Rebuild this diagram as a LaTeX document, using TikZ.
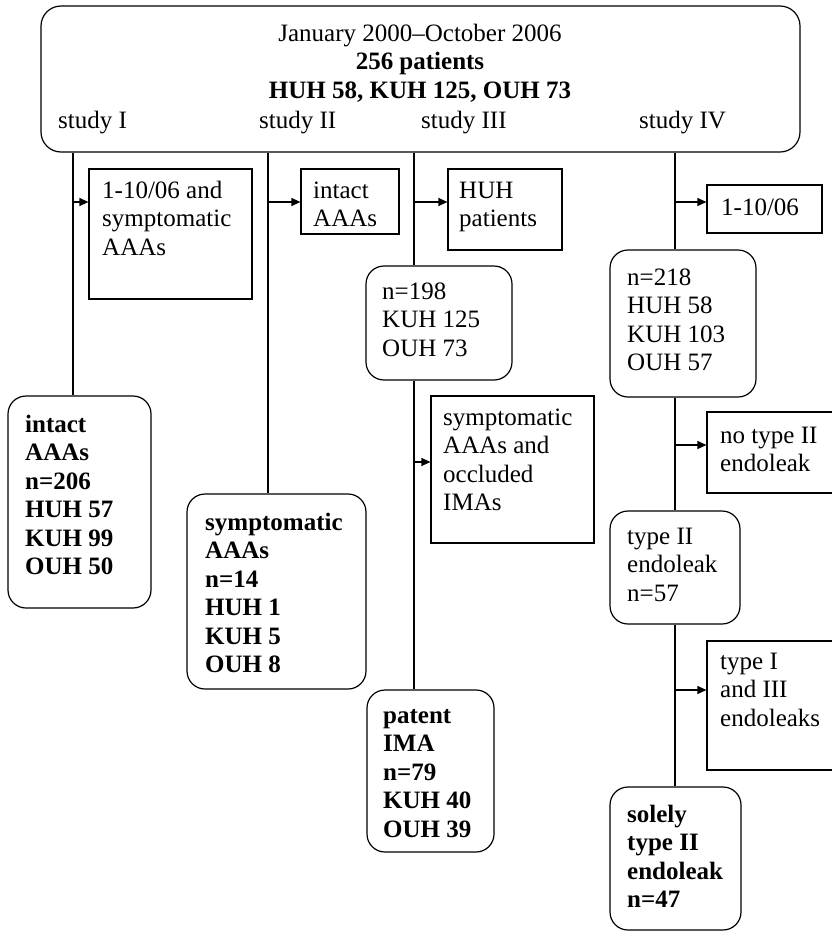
\documentclass[tikz,border=0pt]{standalone}
\usepackage{fontspec}
\setmainfont{Liberation Serif}
\usetikzlibrary{arrows.meta}
\tikzset{
  x=1pt, y=-1pt,
  lw/.style={line width=1.2pt},
  sqbox/.style={draw, lw, rectangle, inner sep=0pt},
  rdbox/.style={draw, lw, rectangle, rounded corners=18pt, inner sep=0pt},
  txt/.style={inner sep=0pt, align=left, anchor=north west, font=\fontsize{25}{28.5}\selectfont},
  link/.style={lw},
  arr/.style={lw, -{Triangle[length=9pt,width=8pt]}},
}
\newcommand\mkbox[6]{\node[#2, minimum width={(#5-#3)*1pt}, minimum height={(#6-#4)*1pt}] (#1) at ({(#3+#5)/2},{(#4+#6)/2}) {};}
\newcommand\mktext[4]{\node[txt] (#1) at (#2,{#3-19.95}) {\strut #4};}
\begin{document}
\begin{tikzpicture}
\useasboundingbox (0,0) rectangle (832,932);
\clip (0,0) rectangle (832,932);
% top box
\mkbox{top}{rdbox, rounded corners=20pt}{41}{6}{800}{152}
\node[txt, anchor=north, align=center] (toptxt) at (420,{41-19.95}) {\strut January 2000--October 2006\\ \textbf{256 patients}\\ \textbf{HUH 58, KUH 125, OUH 73}};
\node[txt, anchor=base west] (st1) at (58,128) {study I};
\node[txt, anchor=base west] (st2) at (259,128) {study II};
\node[txt, anchor=base west] (st3) at (421,128) {study III};
\node[txt, anchor=base west] (st4) at (639,128) {study IV};
% boxes
\mkbox{b1}{sqbox}{89}{169}{252}{299}
\mktext{t1}{102}{198}{1-10/06 and\\ symptomatic\\ AAAs}
\mkbox{b2}{sqbox}{301}{169}{399}{234}
\mktext{t2}{313}{198}{intact\\ AAAs}
\mkbox{b3}{sqbox}{448}{169}{562}{250}
\mktext{t3}{459}{198}{HUH\\ patients}
\mkbox{b4}{sqbox}{707}{185}{822}{233}
\mktext{t4}{721}{215}{1-10/06}
\mkbox{r198}{rdbox}{366}{266}{512}{380}
\mktext{t198}{382}{299}{n=198\\ KUH 125\\ OUH 73}
\mkbox{r218}{rdbox}{610}{250}{756}{397}
\mktext{t218}{627}{285}{n=218\\ HUH 58\\ KUH 103\\ OUH 57}
\mkbox{rI}{rdbox}{8}{396}{151}{608}
\mktext{tI}{25}{432}{\textbf{intact}\\ \textbf{AAAs}\\ \textbf{n=206}\\ \textbf{HUH 57}\\ \textbf{KUH 99}\\ \textbf{OUH 50}}
\mkbox{rII}{rdbox}{187}{494}{366}{689}
\mktext{tII}{205}{530}{\textbf{symptomatic}\\ \textbf{AAAs}\\ \textbf{n=14}\\ \textbf{HUH 1}\\ \textbf{KUH 5}\\ \textbf{OUH 8}}
\mkbox{b5}{sqbox}{431}{396}{594}{543}
\mktext{t5}{443}{425}{symptomatic\\ AAAs and\\ occluded\\ IMAs}
\mkbox{b6}{sqbox}{707}{412}{850}{493}
\mktext{t6}{720}{443}{no type II\\ endoleak}
\mkbox{rT2}{rdbox}{610}{511}{740}{624}
\mktext{tT2}{627}{544}{type II\\ endoleak\\ n=57}
\mkbox{b7}{sqbox}{707}{641}{850}{770}
\mktext{t7}{720}{669}{type I\\ and III\\ endoleaks}
\mkbox{rP}{rdbox}{367}{690}{494}{852}
\mktext{tP}{383}{723}{\textbf{patent}\\ \textbf{IMA}\\ \textbf{n=79}\\ \textbf{KUH 40}\\ \textbf{OUH 39}}
\mkbox{rS}{rdbox}{610}{787}{741}{930}
\mktext{tS}{627}{822}{\textbf{solely}\\ \textbf{type II}\\ \textbf{endoleak}\\ \textbf{n=47}}
% study lines
\coordinate (s1) at (73,0);
\coordinate (s2) at (268,0);
\coordinate (s3) at (414,0);
\coordinate (s4) at (675,0);
\draw[link] (s1 |- top.south) -- (s1 |- rI.north);
\draw[link] (s2 |- top.south) -- (s2 |- rII.north);
\draw[link] (s3 |- top.south) -- (s3 |- r198.north);
\draw[link] (s3 |- r198.south) -- (s3 |- rP.north);
\draw[link] (s4 |- top.south) -- (s4 |- r218.north);
\draw[link] (s4 |- r218.south) -- (s4 |- rT2.north);
\draw[link] (s4 |- rT2.south) -- (s4 |- rS.north);
% arrows
\coordinate (a1) at (73,202);
\coordinate (a2) at (268,202);
\coordinate (a3) at (414,202);
\coordinate (a4) at (675,202);
\coordinate (a5) at (414,462);
\coordinate (a6) at (675,445);
\coordinate (a7) at (675,690);
\draw[arr] (a1) -- (a1 -| b1.west);
\draw[arr] (a2) -- (a2 -| b2.west);
\draw[arr] (a3) -- (a3 -| b3.west);
\draw[arr] (a4) -- (a4 -| b4.west);
\draw[arr] (a5) -- (a5 -| b5.west);
\draw[arr] (a6) -- (a6 -| b6.west);
\draw[arr] (a7) -- (a7 -| b7.west);
\end{tikzpicture}
\end{document}
